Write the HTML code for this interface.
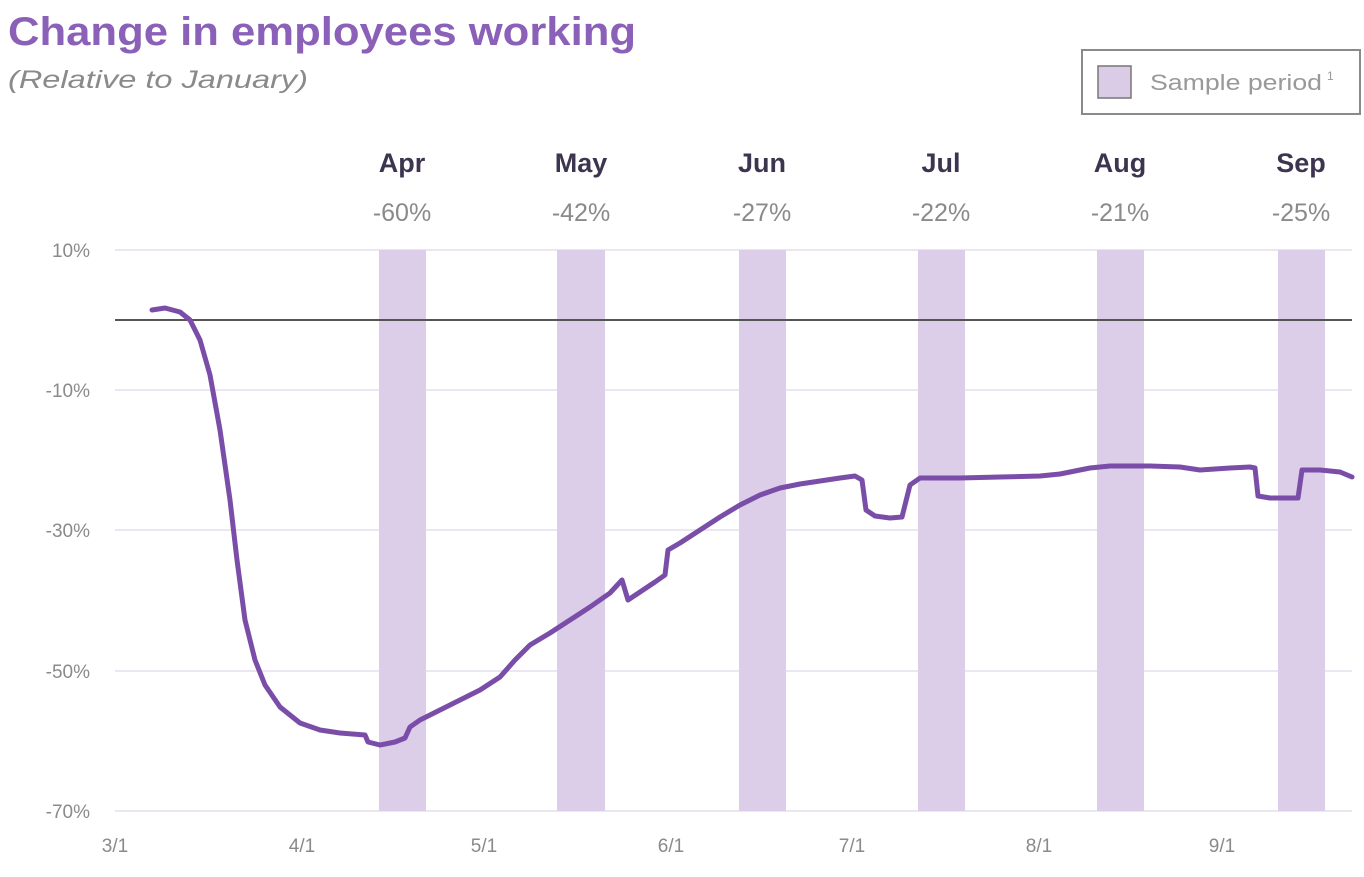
<!DOCTYPE html>
<html><head><style>
body{margin:0;background:#fff;width:1364px;height:872px;overflow:hidden;font-family:"Liberation Sans",sans-serif}
</style></head><body>
<svg width="1364" height="872" xmlns="http://www.w3.org/2000/svg" font-family="Liberation Sans, sans-serif">
<text x="8" y="45" font-size="40" fill="#8b60b8" font-weight="bold" textLength="628" lengthAdjust="spacingAndGlyphs">Change in employees working</text>
<text x="8" y="88" font-size="25" fill="#8a8a8a" font-style="italic" textLength="300" lengthAdjust="spacingAndGlyphs">(Relative to January)</text>
<rect x="1082" y="50" width="278" height="64" fill="#fff" stroke="#8a8a8a" stroke-width="2"/>
<rect x="1098" y="66" width="33" height="32" fill="#dacbe6" stroke="#777" stroke-width="1.5"/>
<text x="1150" y="90" font-size="22" fill="#999" textLength="172" lengthAdjust="spacingAndGlyphs">Sample period</text>
<text x="1327" y="80" font-size="12" fill="#999">1</text>
<g stroke="#ece6f2" stroke-width="2">
<line x1="115" y1="250" x2="1352" y2="250"/><line x1="115" y1="390" x2="1352" y2="390"/>
<line x1="115" y1="530" x2="1352" y2="530"/><line x1="115" y1="671" x2="1352" y2="671"/>
<line x1="115" y1="811" x2="1352" y2="811"/>
</g>
<g fill="#dccde8">
<rect x="379" y="250" width="47" height="561"/><rect x="557" y="250" width="48" height="561"/>
<rect x="739" y="250" width="47" height="561"/><rect x="918" y="250" width="47" height="561"/>
<rect x="1097" y="250" width="47" height="561"/><rect x="1278" y="250" width="47" height="561"/>
</g>
<line x1="115" y1="320" x2="1352" y2="320" stroke="#555" stroke-width="2"/>
<g font-size="19" fill="#8a8a8a" text-anchor="end">
<text x="90" y="257">10%</text><text x="90" y="397">-10%</text><text x="90" y="537">-30%</text>
<text x="90" y="678">-50%</text><text x="90" y="818">-70%</text>
</g>
<g font-size="19" fill="#8a8a8a" text-anchor="middle">
<text x="115" y="852">3/1</text><text x="302" y="852">4/1</text><text x="484" y="852">5/1</text>
<text x="671" y="852">6/1</text><text x="852" y="852">7/1</text><text x="1039" y="852">8/1</text><text x="1222" y="852">9/1</text>
</g>
<g font-size="27" font-weight="bold" fill="#3d3550" text-anchor="middle">
<text x="402" y="172">Apr</text><text x="581" y="172">May</text><text x="762" y="172">Jun</text>
<text x="941" y="172">Jul</text><text x="1120" y="172">Aug</text><text x="1301" y="172">Sep</text>
</g>
<g font-size="25" fill="#8a8a8a" text-anchor="middle">
<text x="402" y="221">-60%</text><text x="581" y="221">-42%</text><text x="762" y="221">-27%</text>
<text x="941" y="221">-22%</text><text x="1120" y="221">-21%</text><text x="1301" y="221">-25%</text>
</g>
<polyline fill="none" stroke="#7a4ea8" stroke-width="5" stroke-linejoin="round" stroke-linecap="round" points="152,310 165,308 180,312 190,320 200,340 210,375 220,430 230,500 237,560 245,620 255,660 265,685 280,707 300,723 320,730 340,733 365,735 368,742 380,745 395,742 405,738 410,727 420,720 440,710 460,700 480,690 500,677 515,660 530,645 550,633 570,620 590,607 610,593 622,580 628,600 640,592 655,582 665,575 668,550 680,543 700,530 720,517 740,505 760,495 780,488 800,484 820,481 840,478 855,476 862,480 866,510 875,516 890,518 902,517 910,485 920,478 960,478 1000,477 1040,476 1060,474 1090,468 1110,466 1150,466 1180,467 1200,470 1230,468 1250,467 1255,468 1258,496 1270,498 1298,498 1302,470 1320,470 1340,472 1352,477"/>
</svg>
</body></html>
